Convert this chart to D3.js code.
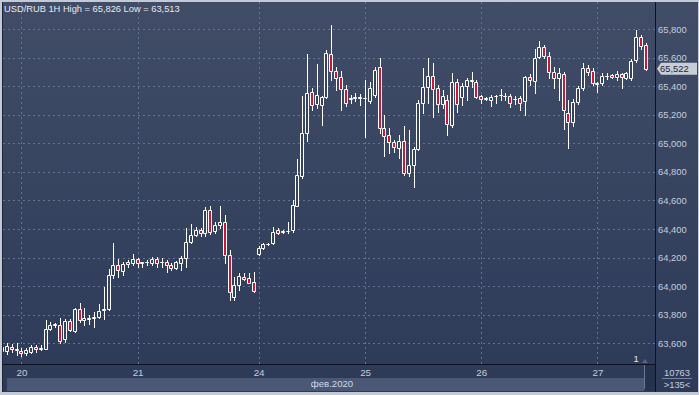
<!DOCTYPE html>
<html>
<head>
<meta charset="utf-8">
<script src="https://cdn.jsdelivr.net/npm/d3@7"></script>
<style>
  html, body { margin: 0; padding: 0; background: #c3cad5; }
  svg { display: block; }
  text { font-family: "Liberation Sans", Arial, sans-serif; }
</style>
</head>
<body>
<div></div>
<script>
// USD/RUB hourly candles, 19-27 Feb 2020
var opens = [63572,63548,63576,63556,63548,63530,63541,63576,63563,63562,
  63702,63728,63730,63628,63754,63688,63838,63763,63773,63780,
  63782,63833,63838,64078,64150,64108,64157,64160,64190,64162,
  64167,64160,64188,64167,64171,64148,64125,64164,64195,64311,
  64358,64393,64372,64533,64386,64428,64451,64218,63926,64008,
  64066,64055,64031,64225,64265,64293,64304,64393,64379,64384,
  64393,64561,64773,65070,65361,65275,65268,65326,65625,65506,
  65462,65378,65313,65320,65318,65315,65296,65338,65536,65105,
  65058,65007,64965,65018,64794,64848,64958,65280,65392,65471,
  65385,65275,65303,65128,65431,65326,65401,65436,65431,65331,
  65313,65303,65329,65336,65329,65331,65308,65317,65296,65462,
  65438,65602,65676,65611,65499,65457,65485,65214,65151,65289,
  65387,65527,65508,65418,65420,65469,65478,65462,65485,65457,
  65455,65583,65742,65688];
var highs = [63588,63600,63595,63600,63565,63565,63586,63588,63590,63763,
  63751,63744,63775,63768,63768,63845,63884,63845,63798,63821,
  63875,63996,64118,64300,64188,64171,64183,64225,64195,64171,
  64183,64206,64202,64195,64183,64160,64178,64211,64407,64435,
  64416,64407,64552,64561,64449,64561,64498,64253,64066,64094,
  64094,64094,64101,64281,64302,64305,64416,64407,64396,64451,
  64603,64888,65331,65625,65385,65555,65331,65653,65826,65536,
  65506,65408,65338,65354,65343,65443,65431,65536,65595,65198,
  65105,65023,65058,65121,65093,64976,65303,65525,65595,65560,
  65408,65373,65338,65490,65448,65422,65457,65501,65443,65338,
  65326,65338,65338,65378,65352,65345,65331,65331,65471,65485,
  65658,65718,65688,65641,65534,65527,65499,65303,65310,65401,
  65562,65548,65525,65431,65490,65490,65485,65508,65492,65499,
  65590,65793,65758,65704];
var lows = [63539,63525,63541,63518,63513,63518,63534,63541,63550,63558,
  63693,63716,63600,63611,63686,63681,63751,63728,63735,63716,
  63775,63768,63833,64055,64066,64078,64132,64148,64132,64136,
  64148,64148,64136,64132,64101,64113,64120,64113,64136,64300,
  64351,64351,64351,64365,64372,64407,64162,63903,63903,63973,
  64043,64020,63961,64218,64260,64288,64295,64365,64372,64372,
  64379,64561,64757,65018,65233,65247,65128,65317,65443,65373,
  65233,65261,65282,65296,65268,65046,65282,65324,65070,64911,
  64930,64941,64895,64778,64771,64696,64953,65214,65282,65186,
  65221,65247,65058,65114,65221,65268,65303,65396,65315,65282,
  65303,65261,65282,65303,65303,65256,65275,65233,65198,65408,
  65352,65597,65597,65455,65387,65303,65098,64965,65121,65275,
  65373,65478,65408,65361,65408,65448,65455,65443,65385,65450,
  65443,65569,65658,65513];
var closes = [63548,63581,63558,63560,63530,63553,63572,63558,63567,63702,
  63730,63732,63616,63758,63693,63838,63763,63775,63777,63784,
  63828,63838,64078,64148,64113,64155,64167,64190,64164,64166,
  64171,64192,64160,64171,64148,64125,64171,64195,64311,64358,
  64393,64372,64533,64379,64428,64451,64218,63959,64008,64071,
  64048,64024,63968,64265,64293,64297,64381,64370,64383,64388,
  64568,64778,65070,65350,65268,65338,65326,65630,65506,65455,
  65378,65284,65317,65324,65322,65319,65385,65513,65105,65051,
  65011,64972,65018,64790,64848,64958,65280,65396,65471,65378,
  65275,65331,65135,65431,65275,65401,65443,65440,65326,65312,
  65317,65326,65333,65340,65333,65282,65312,65282,65462,65443,
  65595,65676,65611,65501,65457,65492,65233,65151,65289,65387,
  65527,65499,65420,65422,65471,65473,65462,65485,65462,65492,
  65578,65746,65681,65522];

// first bar of each day and its label
var dayStarts = [4, 28, 53, 75, 99, 123];
var dayLabels = ["20", "21", "24", "25", "26", "27"];
var priceTicks = [63600, 63800, 64000, 64200, 64400, 64600, 64800, 65000, 65200, 65400, 65600, 65800];
var lastPrice = 65522;
var seriesHigh = 65826, seriesLow = 63513;

var width = 699, height = 395;
var plotLeft = 3, plotRight = 655, plotTop = 2, plotBottom = 364;
var bearColor = "#c8173a";
var gridColor = "#627293";
var labelColor = "#c5cddc";

var svg = d3.select("div").append("svg")
    .attr("width", width)
    .attr("height", height);

var defs = svg.append("defs");
var grad = defs.append("linearGradient")
    .attr("id", "bg")
    .attr("x1", 0).attr("y1", 0).attr("x2", 0).attr("y2", 1);
grad.append("stop").attr("offset", "0%").attr("stop-color", "#414d67");
grad.append("stop").attr("offset", "100%").attr("stop-color", "#2c3a58");

defs.append("clipPath").attr("id", "plotclip")
  .append("rect")
    .attr("x", plotLeft).attr("y", plotTop)
    .attr("width", plotRight - plotLeft).attr("height", plotBottom - plotTop);

// frame and background
svg.append("rect")
    .attr("x", 0).attr("y", 0).attr("width", width).attr("height", height)
    .attr("fill", "#c3cad5");
svg.append("rect")
    .attr("x", 2).attr("y", 2).attr("width", width - 3).attr("height", 390)
    .attr("fill", "url(#bg)");
svg.append("line")
    .attr("x1", 2.5).attr("x2", 2.5).attr("y1", 2).attr("y2", 392)
    .attr("stroke", "#1c2538");

// date band
svg.append("rect")
    .attr("x", 7).attr("y", 378).attr("width", 637).attr("height", 13)
    .attr("fill", "#4a5876");
svg.append("rect")
    .attr("x", 645).attr("y", 365).attr("width", 10).attr("height", 26)
    .attr("fill", "#27334d");
svg.append("line")
    .attr("x1", 644.5).attr("x2", 644.5).attr("y1", 365).attr("y2", 389)
    .attr("stroke", "#6a7894");

var x = d3.scaleLinear().domain([0, 135]).range([2.1, 2.1 + 135 * 4.84]);
var y = d3.scaleLinear().domain([63600, 65800]).range([343.3, 29]);

var px = function(v) { return Math.round(v) + 0.5; };

// grid
var grid = svg.append("g");
grid.selectAll("line.h").data(priceTicks).enter().append("line")
    .attr("x1", plotLeft).attr("x2", plotRight)
    .attr("y1", function(d) { return px(y(d)); })
    .attr("y2", function(d) { return px(y(d)); })
    .attr("stroke", gridColor).attr("stroke-dasharray", "2,3");
grid.selectAll("line.v").data(dayStarts).enter().append("line")
    .attr("x1", function(d) { return px(x(d)); })
    .attr("x2", function(d) { return px(x(d)); })
    .attr("y1", plotTop).attr("y2", plotBottom)
    .attr("stroke", gridColor).attr("stroke-dasharray", "2,3");

// candles
var bars = d3.range(opens.length).map(function(i) {
    return {i: i, o: opens[i], h: highs[i], l: lows[i], c: closes[i]};
});

var plot = svg.append("g").attr("clip-path", "url(#plotclip)");
var candle = plot.selectAll("g.candle").data(bars).enter().append("g");

candle.append("line")
    .attr("x1", function(d) { return px(x(d.i)); })
    .attr("x2", function(d) { return px(x(d.i)); })
    .attr("y1", function(d) { return Math.round(y(d.h)); })
    .attr("y2", function(d) { return Math.round(y(d.l)) + 1; })
    .attr("stroke", "#ffffff");

candle.append("path")
    .attr("d", function(d) {
        var cx = Math.round(x(d.i));
        var t = px(y(Math.max(d.o, d.c)));
        var b = px(y(Math.min(d.o, d.c)));
        return "M" + (cx - 1.5) + "," + t + "H" + (cx + 1.5) + "V" + b + "H" + (cx - 1.5) + "Z";
    })
    .attr("fill", function(d) { return d.c >= d.o ? "#35435f" : bearColor; })
    .attr("stroke", "#ffffff");

// axis lines
svg.append("line")
    .attr("x1", plotLeft).attr("x2", plotRight).attr("y1", 364.5).attr("y2", 364.5)
    .attr("stroke", "#0d1220");
svg.append("line")
    .attr("x1", 655.5).attr("x2", 655.5).attr("y1", 2).attr("y2", 392)
    .attr("stroke", "#0d1220");

// price axis
var yAxis = svg.append("g")
    .attr("transform", "translate(655,0)")
    .call(d3.axisRight(y).tickValues(priceTicks).tickFormat(d3.format(",")).tickSize(0).tickPadding(3));
yAxis.select(".domain").remove();
yAxis.selectAll("text")
    .attr("fill", labelColor)
    .style("font-size", "9.4px");

// day axis
var xAxis = svg.append("g")
    .attr("transform", "translate(0,364)")
    .call(d3.axisBottom(x).tickValues(dayStarts)
        .tickFormat(function(d, i) { return dayLabels[i]; })
        .tickSize(0).tickPadding(5));
xAxis.select(".domain").remove();
xAxis.selectAll("text")
    .attr("fill", labelColor)
    .style("font-size", "9.8px");

svg.append("text")
    .attr("x", 332).attr("y", 387)
    .attr("text-anchor", "middle")
    .attr("fill", "#d0d7e4")
    .style("font-size", "9.6px")
    .text("фев.2020");

// last price marker
var ly = y(lastPrice);
svg.append("path")
    .attr("d", "M657," + ly + "L661," + (ly - 6) + "H697V" + (ly + 6) + "H661Z")
    .attr("fill", "#c9ced6");
svg.append("text")
    .attr("x", 660).attr("y", ly + 3.5)
    .attr("fill", "#1e2636")
    .style("font-size", "9.4px")
    .text(d3.format(",")(lastPrice));

// title
svg.append("text")
    .attr("x", 4).attr("y", 11.5)
    .attr("fill", "#e6eaf2")
    .style("font-size", "9.3px")
    .text("USD/RUB 1H High = " + d3.format(",")(seriesHigh) + " Low = " + d3.format(",")(seriesLow));

// little bits in the corner
svg.append("text")
    .attr("x", 636).attr("y", 362)
    .attr("fill", "#e6eaf2")
    .attr("text-anchor", "middle")
    .style("font-size", "9.3px")
    .text("1");
svg.append("path")
    .attr("d", "M642,363L645,359L648,363Z")
    .attr("fill", "#56647f");

svg.append("text")
    .attr("x", 677).attr("y", 375.5)
    .attr("text-anchor", "middle")
    .attr("fill", labelColor)
    .style("font-size", "9.4px")
    .text("10763");
svg.append("line")
    .attr("x1", 662).attr("x2", 692).attr("y1", 378.5).attr("y2", 378.5)
    .attr("stroke", "#7886a2");
svg.append("text")
    .attr("x", 677).attr("y", 387.5)
    .attr("text-anchor", "middle")
    .attr("fill", labelColor)
    .style("font-size", "9.4px")
    .text(">135<");
</script>
</body>
</html>
